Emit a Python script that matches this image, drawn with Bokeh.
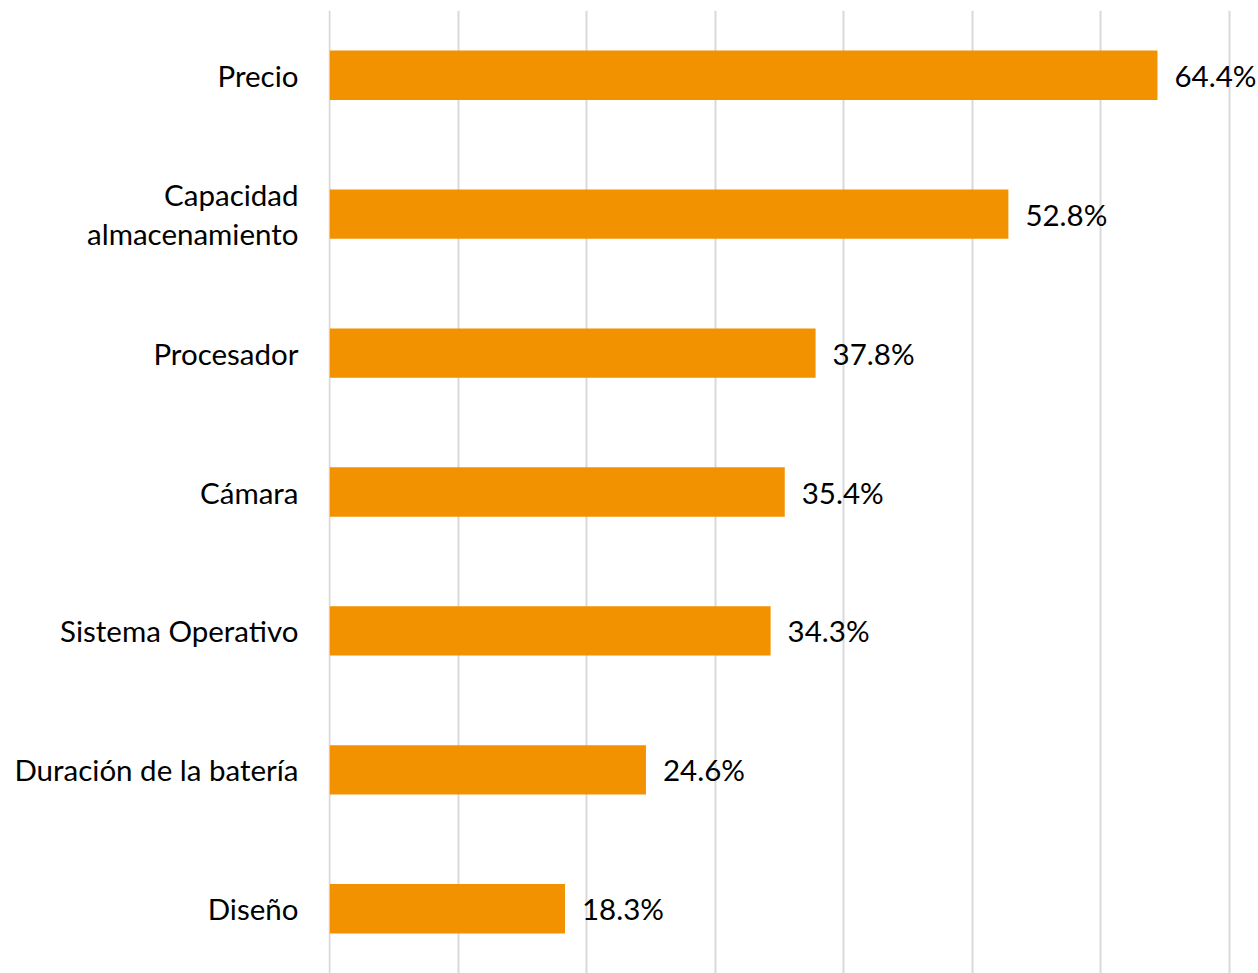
from bokeh.plotting import figure
from bokeh.models import FactorRange, Range1d, FixedTicker, ColumnDataSource, LabelSet
from bokeh.core.properties import value
from bokeh.embed import file_html
from bokeh.resources import INLINE

categories = ["Precio", "Capacidad\nalmacenamiento", "Procesador", "Cámara",
              "Sistema Operativo", "Duración de la batería", "Diseño"]
values = [64.4, 52.8, 37.8, 35.4, 34.3, 24.6, 18.3]
labels = ["64.4%", "52.8%", "37.8%", "35.4%", "34.3%", "24.6%", "18.3%"]
grid_ticks = [0, 10, 20, 30, 40, 50, 60, 70]

FONT = "Lato"
FS = "29.5px"

src = ColumnDataSource(dict(cat=categories, val=values, lab=labels))

p = figure(
    width=1258, height=973,
    y_range=FactorRange(factors=list(reversed(categories)), range_padding=-0.034,
                        range_padding_units="absolute"),
    x_range=Range1d(-0.1, 72.26),
    output_backend="svg", toolbar_location=None,
    min_border_left=328, min_border_right=0, min_border_top=10, min_border_bottom=0,
)
p.outline_line_color = None
p.background_fill_color = "white"
p.border_fill_color = "white"

p.hbar(y="cat", right="val", left=0, height=0.355, source=src,
       fill_color="#F39200", line_color=None)

p.add_layout(LabelSet(x="val", y="cat", text="lab", source=src, x_offset=17,
                      text_align="left", text_baseline="middle",
                      text_font=value(FONT), text_font_size=value(FS),
                      text_color="#000000"))

p.xaxis.visible = False
p.ygrid.grid_line_color = None
p.xgrid.ticker = FixedTicker(ticks=grid_ticks)
p.xgrid.grid_line_color = "#D9D9D9"
p.xgrid.grid_line_width = 2

ax = p.yaxis[0]
ax.axis_line_color = None
ax.major_tick_line_color = None
ax.minor_tick_line_color = None
ax.major_tick_out = 0
ax.major_tick_in = 0
ax.major_label_standoff = 30
ax.major_label_text_font = FONT
ax.major_label_text_font_size = FS
ax.major_label_text_color = "#000000"
ax.major_label_text_line_height = 1.1

open("out.html", "w").write(file_html(p, INLINE))
